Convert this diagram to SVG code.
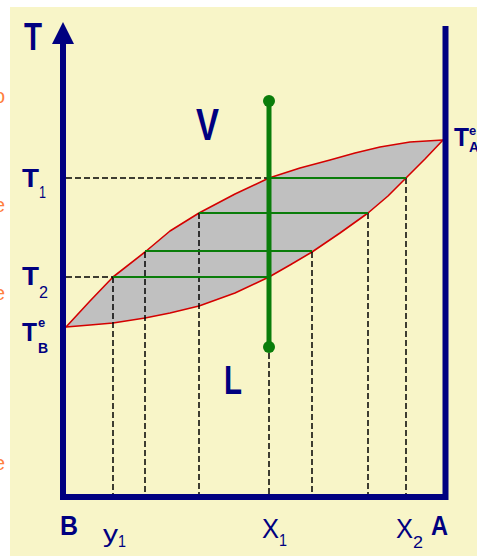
<svg xmlns="http://www.w3.org/2000/svg" width="477" height="556" viewBox="0 0 477 556">
<style>
.lbl{font-family:"Liberation Sans",Arial,sans-serif;fill:#000080;}
.b{font-weight:bold;}
.dash{stroke:#000;stroke-width:1.5;stroke-dasharray:6 3;fill:none;}
.tie{stroke:#0a7d0a;stroke-width:2;fill:none;}
.axis{stroke:#000080;stroke-width:6;fill:none;}
.org{font-family:"Liberation Sans",Arial,sans-serif;fill:#ff7f40;font-size:20px;}
</style>
<rect x="0" y="0" width="477" height="556" fill="#ffffff"/>
<rect x="10" y="7" width="467" height="549" fill="#f8f5c8"/>
<g id="margin-text">
<text class="org" x="-6" y="103">o</text>
<text class="org" x="-6" y="212">e</text>
<text class="org" x="-6" y="300">e</text>
<text class="org" x="-6" y="470">e</text>
</g>
<g id="lens">
<path d="M66,327 L90,301 L113,277 L145,252 L170,231 L199,213 L235,194 L269,178 L300,168 L330,160 L355,153 L380,147 L410,142 L443,140 L425,159 L406,178 L388,196 L368,213 L340,233 L312,252 L290,265 L269,277 L235,293 L199,306 L170,313 L145,318 L113,323 L90,325 Z" fill="#c0c0c0" stroke="none"/>
<polyline points="66,327 90,301 113,277 145,252 170,231 199,213 235,194 269,178 300,168 330,160 355,153 380,147 410,142 443,140" fill="none" stroke="#d40000" stroke-width="1.6" stroke-linejoin="round"/>
<polyline points="66,327 90,325 113,323 145,318 170,313 199,306 235,293 269,277 290,265 312,252 340,233 368,213 388,196 406,178 425,159 443,140" fill="none" stroke="#d40000" stroke-width="1.6" stroke-linejoin="round"/>
</g>
<g id="connectors">
<line class="dash" x1="66" y1="178" x2="269" y2="178"/>
<line class="dash" x1="66" y1="277" x2="113" y2="277"/>
<line class="dash" x1="113" y1="277" x2="113" y2="494"/>
<line class="dash" x1="145" y1="252" x2="145" y2="494"/>
<line class="dash" x1="199" y1="213" x2="199" y2="494"/>
<line class="dash" x1="269" y1="353" x2="269" y2="494"/>
<line class="dash" x1="312" y1="252" x2="312" y2="494"/>
<line class="dash" x1="368" y1="213" x2="368" y2="494"/>
<line class="dash" x1="406" y1="178" x2="406" y2="494"/>
<line class="tie" x1="269" y1="178" x2="406" y2="178"/>
<line class="tie" x1="199" y1="213" x2="368" y2="213"/>
<line class="tie" x1="145" y1="251" x2="312" y2="251"/>
<line class="tie" x1="113" y1="277" x2="269" y2="277"/>
</g>
<g id="isopleth">
<line x1="269" y1="101" x2="269" y2="347" stroke="#0a7d0a" stroke-width="5"/>
<circle cx="269" cy="101" r="6" fill="#0a7d0a"/>
<circle cx="269" cy="347" r="6" fill="#0a7d0a"/>
</g>
<g id="axes">
<polyline class="axis" points="63,40 63,497 445.5,497 445.5,26"/>
<polygon points="63,22 52,44 74,44" fill="#000080"/>
</g>
<g id="labels">
<text class="lbl b" x="24" y="50" font-size="39" textLength="18" lengthAdjust="spacingAndGlyphs">T</text>
<text class="lbl b" x="22" y="187" font-size="26" textLength="17" lengthAdjust="spacingAndGlyphs">T</text>
<text class="lbl" x="39" y="198" font-size="16" textLength="7" lengthAdjust="spacingAndGlyphs">1</text>
<text class="lbl b" x="22" y="285" font-size="26" textLength="17" lengthAdjust="spacingAndGlyphs">T</text>
<text class="lbl" x="39" y="298" font-size="16" textLength="9" lengthAdjust="spacingAndGlyphs">2</text>
<text class="lbl b" x="22" y="341" font-size="26" textLength="15" lengthAdjust="spacingAndGlyphs">T</text>
<text class="lbl b" x="38" y="327" font-size="13">e</text>
<text class="lbl b" x="38" y="353" font-size="14">B</text>
<text class="lbl b" x="454" y="146" font-size="25" textLength="15" lengthAdjust="spacingAndGlyphs">T</text>
<text class="lbl b" x="469" y="135" font-size="13">e</text>
<text class="lbl b" x="469" y="152" font-size="14">A</text>
<text class="lbl b" x="196" y="140" font-size="44" textLength="23" lengthAdjust="spacingAndGlyphs">V</text>
<text class="lbl b" x="224" y="394" font-size="40" textLength="18" lengthAdjust="spacingAndGlyphs">L</text>
<text class="lbl b" x="60" y="535" font-size="27" textLength="18" lengthAdjust="spacingAndGlyphs">B</text>
<text class="lbl b" x="431" y="535" font-size="27" textLength="17" lengthAdjust="spacingAndGlyphs">A</text>
<text class="lbl" x="103" y="542" font-size="24" textLength="15" lengthAdjust="spacingAndGlyphs">y</text>
<text class="lbl" x="118" y="547" font-size="17" textLength="8" lengthAdjust="spacingAndGlyphs">1</text>
<text class="lbl" x="262" y="538" font-size="27" textLength="17" lengthAdjust="spacingAndGlyphs">X</text>
<text class="lbl" x="279" y="546" font-size="17" textLength="8" lengthAdjust="spacingAndGlyphs">1</text>
<text class="lbl" x="396" y="538" font-size="27" textLength="17" lengthAdjust="spacingAndGlyphs">X</text>
<text class="lbl" x="413" y="548" font-size="17" textLength="10" lengthAdjust="spacingAndGlyphs">2</text>
</g>
</svg>
